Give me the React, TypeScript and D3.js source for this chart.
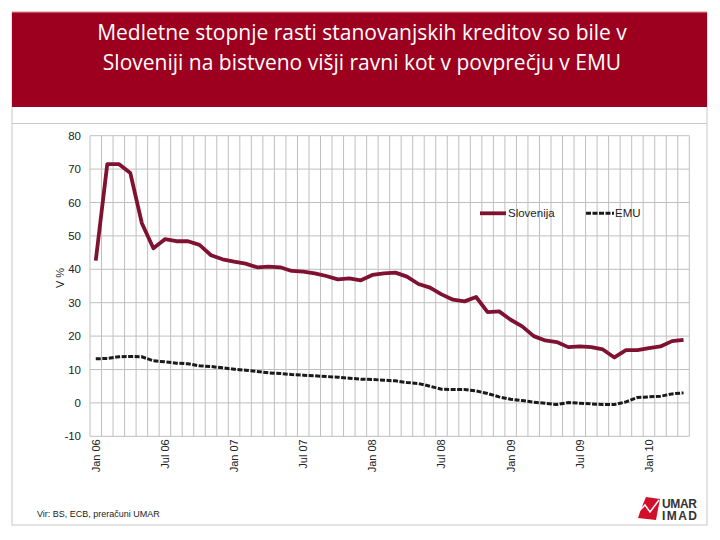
import React from "react";
import { scaleBand, scaleLinear, line } from "d3";

// monthly categories, Jan 06 - Apr 10
const categories = [
  "Jan 06", "Feb 06", "Mar 06", "Apr 06", "May 06", "Jun 06", "Jul 06", "Aug 06", "Sep 06", "Oct 06", "Nov 06", "Dec 06",
  "Jan 07", "Feb 07", "Mar 07", "Apr 07", "May 07", "Jun 07", "Jul 07", "Aug 07", "Sep 07", "Oct 07", "Nov 07", "Dec 07",
  "Jan 08", "Feb 08", "Mar 08", "Apr 08", "May 08", "Jun 08", "Jul 08", "Aug 08", "Sep 08", "Oct 08", "Nov 08", "Dec 08",
  "Jan 09", "Feb 09", "Mar 09", "Apr 09", "May 09", "Jun 09", "Jul 09", "Aug 09", "Sep 09", "Oct 09", "Nov 09", "Dec 09",
  "Jan 10", "Feb 10", "Mar 10", "Apr 10",
];

const slovenija = [
  42.6, 71.5, 71.5, 68.8, 53.8, 46.3, 49.0, 48.4, 48.4, 47.3, 44.2, 43.0,
  42.3, 41.7, 40.6, 40.8, 40.6, 39.5, 39.3, 38.8, 38.0, 37.0, 37.3, 36.7,
  38.3, 38.8, 39.0, 37.8, 35.6, 34.5, 32.5, 30.9, 30.4, 31.7, 27.2, 27.4,
  24.9, 22.9, 20.0, 18.7, 18.2, 16.7, 16.9, 16.7, 16.0, 13.6, 15.8, 15.8,
  16.4, 16.9, 18.5, 18.9,
];

const emu = [
  13.2, 13.3, 13.8, 13.9, 13.8, 12.6, 12.3, 11.9, 11.7, 11.1, 10.9, 10.5,
  10.1, 9.8, 9.4, 9.0, 8.8, 8.5, 8.3, 8.1, 7.9, 7.7, 7.4, 7.1,
  7.0, 6.8, 6.6, 6.1, 5.8, 5.0, 4.1, 4.0, 4.0, 3.6, 2.8, 1.8,
  1.1, 0.7, 0.2, -0.1, -0.5, 0.1, -0.1, -0.3, -0.5, -0.5, 0.3, 1.6,
  1.8, 2.0, 2.7, 3.0,
];

const yTicks = [-10, 0, 10, 20, 30, 40, 50, 60, 70, 80];
const xTickLabels = ["Jan 06", "Jul 06", "Jan 07", "Jul 07", "Jan 08", "Jul 08", "Jan 09", "Jul 09", "Jan 10"];

const titleLines = [
  "Medletne stopnje rasti stanovanjskih kreditov so bile v",
  "Sloveniji na bistveno višji ravni kot v povprečju v EMU",
];

const RED = "#9d001f";
const SLO = "#7f1231";
const FONT = "'Liberation Sans', Arial, sans-serif";

export default function App() {
  const left = 90;
  const right = 689.3;
  const top = 135.7;
  const bottom = 436.3;

  const x = scaleBand<string>().domain(categories).range([left, right]).padding(0);
  const y = scaleLinear().domain([-10, 80]).range([bottom, top]);
  const cx = (c: string) => (x(c) || 0) + x.bandwidth() / 2;

  const path = line<number>()
    .x((d, i) => cx(categories[i]))
    .y((d) => y(d));

  const bounds = categories.map((c) => x(c) || 0).concat([right]);

  return (
    <svg
      width={720}
      height={540}
      style={{ position: "absolute", left: 0, top: 0, background: "#fff" }}
    >
      {/* slide frame */}
      <rect x={12} y={12} width={695} height={513} fill="#fff" stroke="#c8c8c8" strokeWidth={1} />
      <rect x={12} y={12} width={695} height={95} fill={RED} />
      <line x1={12} x2={707} y1={12} y2={12} stroke="#e7a3ad" strokeWidth={1} />
      <line x1={12} x2={707} y1={123.5} y2={123.5} stroke="#c8c8c8" strokeWidth={1} />
      {titleLines.map((t, i) => (
        <text
          key={t}
          x={362}
          y={40 + i * 29.5}
          textAnchor="middle"
          fill="#fff"
          fontFamily="'Open Sans', 'DejaVu Sans', sans-serif"
          fontSize={21}
        >
          {t}
        </text>
      ))}

      {/* grid */}
      {yTicks.map((t) => (
        <line key={"h" + t} x1={left} x2={right} y1={y(t)} y2={y(t)} stroke="#bfbfbf" strokeWidth={1} />
      ))}
      {bounds.map((b, i) => (
        <line key={"v" + i} x1={b} x2={b} y1={top} y2={bottom} stroke="#bfbfbf" strokeWidth={1} />
      ))}

      {/* y axis */}
      {yTicks.map((t) => (
        <text key={"yt" + t} x={81} y={y(t)} dy="0.35em" textAnchor="end" fontFamily={FONT} fontSize={11.5} fill="#222">
          {t}
        </text>
      ))}
      <text
        transform={`translate(60,${(y(40) + y(30)) / 2 - 8}) rotate(-90)`}
        textAnchor="middle"
        dy="0.35em"
        fontFamily={FONT}
        fontSize={11}
        fill="#222"
      >
        V %
      </text>

      {/* x axis labels */}
      {xTickLabels.map((l) => (
        <text
          key={l}
          transform={`translate(${cx(l)},${bottom + 3}) rotate(-90)`}
          textAnchor="end"
          dy="0.35em"
          fontFamily={FONT}
          fontSize={11}
          fill="#222"
        >
          {l}
        </text>
      ))}

      {/* series */}
      <path d={path(emu) || ""} fill="none" stroke="#1a1a1a" strokeWidth={3} strokeDasharray="5,1.5" />
      <path d={path(slovenija) || ""} fill="none" stroke={SLO} strokeWidth={3.8} strokeLinejoin="round" />

      {/* legend */}
      <line x1={480} x2={506} y1={213.3} y2={213.3} stroke={SLO} strokeWidth={3.8} />
      <text x={508} y={213.3} dy="0.35em" fontFamily={FONT} fontSize={11.5} fill="#222">
        Slovenija
      </text>
      <line x1={586} x2={614} y1={213.3} y2={213.3} stroke="#1a1a1a" strokeWidth={3} strokeDasharray="5,1.5" />
      <text x={615} y={213.3} dy="0.35em" fontFamily={FONT} fontSize={11.5} fill="#222">
        EMU
      </text>

      {/* source */}
      <text x={37} y={517} fontFamily={FONT} fontSize={9} fill="#222">
        Vir: BS, ECB, preračuni UMAR
      </text>

      {/* logo */}
      <g>
        <polygon points="646,497 660,499 656,520 638,518 641,509" fill="#d0102a" />
        <polyline points="637,513 645,505 650,512 659,500" fill="none" stroke="#fff" strokeWidth={1.5} />
        <text x={662} y={507.5} fontFamily={FONT} fontWeight="bold" fontSize={12} fill="#333" textLength={35}>
          UMAR
        </text>
        <text x={662} y={520} fontFamily={FONT} fontWeight="bold" fontSize={12} fill="#333" textLength={35}>
          IMAD
        </text>
      </g>
    </svg>
  );
}
